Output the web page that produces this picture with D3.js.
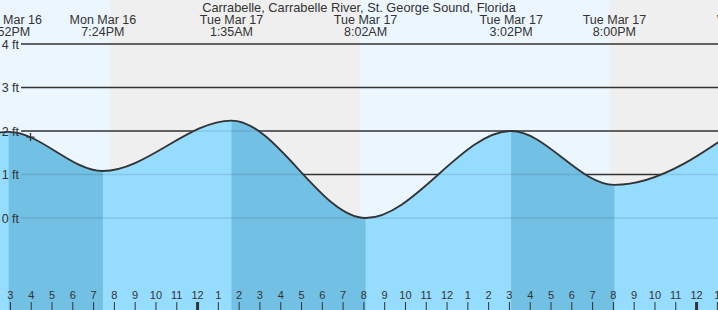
<!DOCTYPE html>
<html>
<head>
<meta charset="utf-8">
<script src="https://d3js.org/d3.v7.min.js"></script>
<style>
  body { margin: 0; background: #fff; }
  svg { display: block; font-family: "Liberation Sans", Arial, sans-serif; }
</style>
</head>
<body>
<div id="chart"></div>
<script>
  // tide extremes (high / low), times local
  var extremeTimes = ["2026-03-16 08:10", "2026-03-16 14:52", "2026-03-16 19:24", "2026-03-17 01:35",
                      "2026-03-17 08:02", "2026-03-17 15:02", "2026-03-17 20:00", "2026-03-18 02:34"];
  var extremeLevels = [0.2, 1.98, 1.08, 2.24, 0.0, 2.0, 0.76, 2.27];

  // sunset / sunrise
  var nightStarts = ["2026-03-16 19:45", "2026-03-17 19:47"];
  var nightEnds = ["2026-03-17 07:46", "2026-03-18 07:48"];

  var yTicks = [0, 1, 2, 3, 4];
  var title = "Carrabelle, Carrabelle River, St. George Sound, Florida";

  // current time marker
  var nowTime = "2026-03-16 15:55";
  var nowLevel = 1.86;

  var viewStart = "2026-03-16 14:27";
  var viewEnd = "2026-03-18 00:59";

  var W = 718, H = 310;
  var parse = d3.timeParse("%Y-%m-%d %H:%M");

  var tides = extremeTimes.map(function(t, i) { return {t: parse(t), v: extremeLevels[i]}; });

  var x = d3.scaleTime().domain([parse(viewStart), parse(viewEnd)]).range([0, W]);
  var y = d3.scaleLinear().domain([0, 4]).range([218, 44]);

  var svg = d3.select("#chart").append("svg")
      .attr("width", W)
      .attr("height", H);

  // day background + nights
  svg.append("rect").attr("width", W).attr("height", H).attr("fill", "#ebf6ff");
  svg.selectAll("rect.night")
      .data(nightStarts)
      .enter()
      .append("rect")
      .attr("class", "night")
      .attr("x", function(d) { return x(parse(d)); })
      .attr("width", function(d, i) { return x(parse(nightEnds[i])) - x(parse(d)); })
      .attr("y", 0)
      .attr("height", H)
      .attr("fill", "#efefef");

  // grid lines (under water)
  var grid = svg.append("g");
  grid.selectAll("line")
      .data(yTicks)
      .enter()
      .append("line")
      .attr("x1", 21).attr("x2", W)
      .attr("y1", function(d) { return y(d); })
      .attr("y2", function(d) { return y(d); })
      .attr("stroke", "#333")
      .attr("stroke-width", 1.3);

  var area = d3.area()
      .x(function(d) { return x(d.t); })
      .y0(H)
      .y1(function(d) { return y(d.v); })
      .curve(d3.curveMonotoneX);

  var line = d3.line()
      .x(function(d) { return x(d.t); })
      .y(function(d) { return y(d.v); })
      .curve(d3.curveMonotoneX);

  svg.append("clipPath").attr("id", "water")
      .append("path").attr("d", area(tides));

  svg.append("path")
      .attr("d", area(tides))
      .attr("fill", "#96dcfe");

  // falling tide bands
  var falling = [];
  for (var i = 0; i < tides.length - 1; i++) {
      if (tides[i].v > tides[i + 1].v) falling.push([tides[i].t, tides[i + 1].t]);
  }
  svg.append("g").attr("clip-path", "url(#water)")
      .selectAll("rect")
      .data(falling)
      .enter()
      .append("rect")
      .attr("x", function(d) { return x(d[0]); })
      .attr("width", function(d) { return x(d[1]) - x(d[0]); })
      .attr("y", 0)
      .attr("height", H)
      .attr("fill", "#72c0e4");

  // faint lines through the water
  svg.append("g").attr("clip-path", "url(#water)")
      .selectAll("line")
      .data(yTicks)
      .enter()
      .append("line")
      .attr("x1", 21).attr("x2", W)
      .attr("y1", function(d) { return y(d); })
      .attr("y2", function(d) { return y(d); })
      .attr("stroke", "#000")
      .attr("stroke-opacity", 0.1)
      .attr("stroke-width", 1.3);

  svg.append("path")
      .attr("d", line(tides))
      .attr("fill", "none")
      .attr("stroke", "#333")
      .attr("stroke-width", 1.8);

  // y labels
  svg.selectAll("text.ylab")
      .data(yTicks)
      .enter()
      .append("text")
      .attr("class", "ylab")
      .attr("x", 19)
      .attr("y", function(d) { return y(d) + 4.5; })
      .attr("text-anchor", "end")
      .attr("font-size", 12.5)
      .attr("fill", "#333")
      .text(function(d) { return d + " ft"; });

  // title
  svg.append("text")
      .attr("x", 359).attr("y", 12)
      .attr("text-anchor", "middle")
      .attr("font-size", 12.8)
      .attr("fill", "#333")
      .text(title);

  // extreme labels
  var dayFmt = d3.timeFormat("%a %b %-d"), timeFmt = d3.timeFormat("%-I:%M%p");
  var labs = svg.selectAll("g.ext")
      .data(tides.slice(1))
      .enter()
      .append("g")
      .attr("class", "ext")
      .attr("transform", function(d) { return "translate(" + x(d.t) + ",0)"; });
  labs.append("text").attr("y", 24).text(function(d) { return dayFmt(d.t); });
  labs.append("text").attr("y", 36).text(function(d) { return timeFmt(d.t); });
  labs.selectAll("text")
      .attr("text-anchor", "middle")
      .attr("font-size", 12.5)
      .attr("fill", "#333");

  // hour axis at bottom (one extra hour so the cut-off label at the edge shows)
  var hours = d3.timeHour.range(x.domain()[0], d3.timeHour.offset(x.domain()[1], 1));
  var hourFmt = d3.timeFormat("%-I");
  var ax = svg.append("g").selectAll("g")
      .data(hours)
      .enter()
      .append("g")
      .attr("transform", function(d) { return "translate(" + (x(d) - 1) + ",0)"; });
  ax.append("line")
      .attr("y1", 302).attr("y2", H)
      .attr("stroke", "#333")
      .attr("stroke-width", function(d) { return d.getHours() === 0 ? 3 : 1; });
  ax.append("text")
      .attr("y", 299)
      .attr("text-anchor", "middle")
      .attr("font-size", 11)
      .attr("fill", "#333")
      .text(function(d) { return hourFmt(d); });

  // now marker
  var nx = x(parse(nowTime)), ny = y(nowLevel);
  svg.append("path")
      .attr("d", "M" + (nx - 4) + "," + ny + "H" + (nx + 4) + "M" + nx + "," + (ny - 4) + "V" + (ny + 4))
      .attr("stroke", "#333")
      .attr("stroke-width", 1.3);
</script>
</body>
</html>
